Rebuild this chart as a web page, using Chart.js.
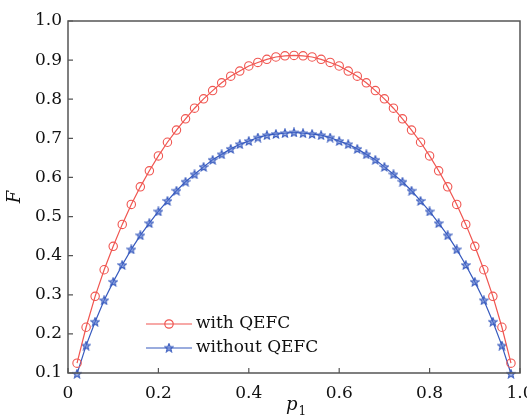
<!DOCTYPE html>
<html>
<head>
<meta charset="utf-8">
<script src="https://cdn.jsdelivr.net/npm/chart.js@4/dist/chart.umd.min.js"></script>
<style>
  body { margin: 0; background: #fff; }
  canvas { display: block; }
</style>
</head>
<body>
<canvas id="grafica" width="527" height="420"></canvas>
<script>
// valores de p1 (eje x)
const p1 = [0.02, 0.04, 0.06, 0.08, 0.10, 0.12, 0.14, 0.16, 0.18, 0.20,
            0.22, 0.24, 0.26, 0.28, 0.30, 0.32, 0.34, 0.36, 0.38, 0.40,
            0.42, 0.44, 0.46, 0.48, 0.50, 0.52, 0.54, 0.56, 0.58, 0.60,
            0.62, 0.64, 0.66, 0.68, 0.70, 0.72, 0.74, 0.76, 0.78, 0.80,
            0.82, 0.84, 0.86, 0.88, 0.90, 0.92, 0.94, 0.96, 0.98];

// F con QEFC
const conQEFC = [0.125, 0.217, 0.296, 0.364, 0.424, 0.480, 0.531, 0.576, 0.617, 0.655,
                 0.690, 0.721, 0.750, 0.777, 0.801, 0.822, 0.842, 0.859, 0.872, 0.885,
                 0.894, 0.902, 0.908, 0.911, 0.912, 0.911, 0.908, 0.902, 0.894, 0.885,
                 0.872, 0.859, 0.842, 0.822, 0.801, 0.777, 0.750, 0.721, 0.690, 0.655,
                 0.617, 0.576, 0.531, 0.480, 0.424, 0.364, 0.296, 0.217, 0.125];

// F sin QEFC
const sinQEFC = [0.098, 0.170, 0.231, 0.286, 0.333, 0.376, 0.416, 0.452, 0.483, 0.513,
                 0.540, 0.566, 0.589, 0.608, 0.627, 0.645, 0.659, 0.673, 0.685, 0.693,
                 0.702, 0.708, 0.711, 0.713, 0.715, 0.713, 0.711, 0.708, 0.702, 0.693,
                 0.685, 0.673, 0.659, 0.645, 0.627, 0.608, 0.589, 0.566, 0.540, 0.513,
                 0.483, 0.452, 0.416, 0.376, 0.333, 0.286, 0.231, 0.170, 0.098];

const etiquetas = ['with QEFC', 'without QEFC'];
const ticksX = [0, 0.2, 0.4, 0.6, 0.8, 1.0];
const ticksY = [0.1, 0.2, 0.3, 0.4, 0.5, 0.6, 0.7, 0.8, 0.9, 1.0];

const rojo = 'rgb(240, 85, 80)';
const azul = 'rgb(55, 90, 190)';
const fuente = '"DejaVu Serif", "Liberation Serif", serif';

// estrella de cinco puntas como pointStyle
function crearEstrella(color) {
    const c = document.createElement('canvas');
    c.width = 10; c.height = 10;
    const g = c.getContext('2d');
    g.beginPath();
    for (let i = 0; i < 10; i++) {
        const r = i % 2 === 0 ? 4.4 : 1.9;
        const a = -Math.PI / 2 + i * Math.PI / 5;
        const px = 5 + r * Math.cos(a), py = 5.3 + r * Math.sin(a);
        if (i === 0) g.moveTo(px, py); else g.lineTo(px, py);
    }
    g.closePath();
    g.fillStyle = 'rgba(90, 120, 210, 0.55)';
    g.fill();
    g.strokeStyle = color;
    g.lineWidth = 1.1;
    g.stroke();
    return c;
}
const estrella = crearEstrella(azul);

// marco, ticks hacia dentro, titulos y leyenda
const decoracion = {
    id: 'decoracion',
    afterDraw(chart) {
        const ctx = chart.ctx;
        const a = chart.chartArea;
        const sx = chart.scales.x, sy = chart.scales.y;
        ctx.save();
        ctx.strokeStyle = '#555';
        ctx.lineWidth = 1.5;
        ctx.strokeRect(a.left, a.top, a.right - a.left, a.bottom - a.top);
        ctx.lineWidth = 1.2;
        ctx.beginPath();
        ticksX.forEach(v => {
            const px = sx.getPixelForValue(v);
            ctx.moveTo(px, a.bottom); ctx.lineTo(px, a.bottom - 5);
        });
        ticksY.forEach(v => {
            const py = sy.getPixelForValue(v);
            ctx.moveTo(a.left, py); ctx.lineTo(a.left + 5, py);
        });
        ctx.stroke();

        // titulo eje y
        ctx.fillStyle = '#111';
        ctx.font = 'italic 18px ' + fuente;
        ctx.textAlign = 'center';
        ctx.textBaseline = 'middle';
        ctx.save();
        ctx.translate(15, (a.top + a.bottom) / 2);
        ctx.rotate(-Math.PI / 2);
        ctx.fillText('F', 0, 0);
        ctx.restore();

        // titulo eje x con subindice
        ctx.textAlign = 'left';
        ctx.textBaseline = 'alphabetic';
        ctx.font = 'italic 18px ' + fuente;
        const cx = (a.left + a.right) / 2 - 8;
        ctx.fillText('p', cx, 410);
        const w = ctx.measureText('p').width;
        ctx.font = '12px ' + fuente;
        ctx.fillText('1', cx + w + 1, 415);

        // leyenda
        const filas = [
            { y: 324, color: rojo, punto: 'circle' },
            { y: 348, color: azul, punto: 'star' }
        ];
        filas.forEach((f, i) => {
            ctx.strokeStyle = f.color;
            ctx.lineWidth = 1.2;
            ctx.beginPath();
            ctx.moveTo(146, f.y); ctx.lineTo(192, f.y);
            ctx.stroke();
            if (f.punto === 'circle') {
                ctx.beginPath();
                ctx.arc(169, f.y, 4.2, 0, Math.PI * 2);
                ctx.stroke();
            } else {
                ctx.drawImage(estrella, 169 - 5, f.y - 5.3);
            }
            ctx.fillStyle = '#111';
            ctx.font = '17px ' + fuente;
            ctx.textBaseline = 'middle';
            ctx.fillText(etiquetas[i], 196, f.y);
        });
        ctx.restore();
    }
};

const ctx = document.getElementById('grafica').getContext('2d');
const grafica = new Chart(ctx, {
    type: 'line',
    data: {
        datasets: [{
            label: etiquetas[0],
            data: p1.map((x, i) => ({ x: x, y: conQEFC[i] })),
            borderColor: rojo,
            borderWidth: 1.2,
            backgroundColor: 'rgba(0,0,0,0)',
            pointStyle: 'circle',
            pointRadius: 4.2,
            pointBorderWidth: 1.1,
            pointBorderColor: rojo,
            pointBackgroundColor: 'rgba(0,0,0,0)',
            tension: 0,
            clip: false
        }, {
            label: etiquetas[1],
            data: p1.map((x, i) => ({ x: x, y: sinQEFC[i] })),
            borderColor: azul,
            borderWidth: 1.2,
            backgroundColor: 'rgba(0,0,0,0)',
            pointStyle: estrella,
            tension: 0,
            clip: false
        }]
    },
    options: {
        responsive: false,
        animation: false,
        layout: { padding: { top: 21, right: 7, left: 0, bottom: 0 } },
        scales: {
            x: {
                type: 'linear',
                min: 0,
                max: 1,
                border: { display: false },
                grid: { display: false, drawTicks: false },
                ticks: {
                    stepSize: 0.2,
                    padding: 10,
                    color: '#111',
                    font: { family: fuente, size: 17 },
                    maxRotation: 0,
                    callback: v => v === 0 ? '0' : v.toFixed(1)
                },
                afterFit: s => { s.height = 47; s.paddingLeft = 0; s.paddingRight = 0; }
            },
            y: {
                min: 0.1,
                max: 1.0,
                border: { display: false },
                grid: { display: false, drawTicks: false },
                ticks: {
                    stepSize: 0.1,
                    padding: 6,
                    color: '#111',
                    font: { family: fuente, size: 17 },
                    callback: v => v.toFixed(1)
                },
                afterFit: s => { s.width = 68; s.paddingTop = 0; s.paddingBottom = 0; }
            }
        },
        plugins: {
            legend: { display: false },
            tooltip: { enabled: false }
        }
    },
    plugins: [decoracion]
});
</script>
</body>
</html>
